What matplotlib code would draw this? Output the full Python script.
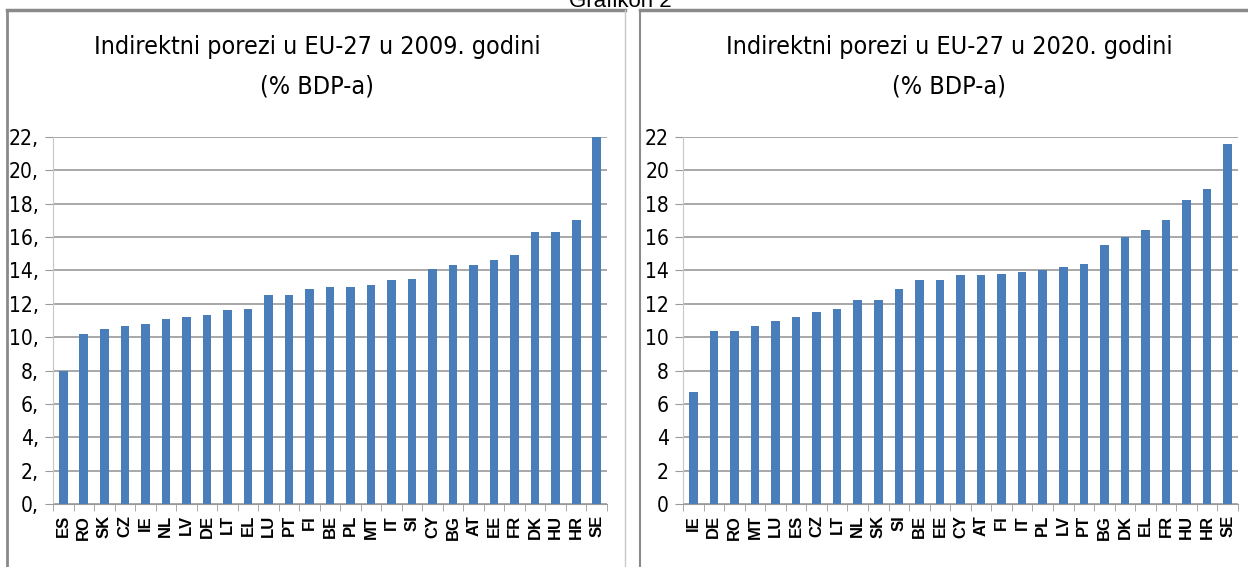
import matplotlib
matplotlib.use('Agg')
from matplotlib import pyplot as plt
from matplotlib.lines import Line2D
from matplotlib import font_manager
import numpy as np

# 2009
countries_2009 = ['ES', 'RO', 'SK', 'CZ', 'IE', 'NL', 'LV', 'DE', 'LT', 'EL', 'LU', 'PT', 'FI', 'BE',
                  'PL', 'MT', 'IT', 'SI', 'CY', 'BG', 'AT', 'EE', 'FR', 'DK', 'HU', 'HR', 'SE']
values_2009 = [8.0, 10.2, 10.5, 10.7, 10.8, 11.1, 11.2, 11.3, 11.6, 11.7, 12.5, 12.5, 12.9, 13.0,
               13.0, 13.1, 13.4, 13.5, 14.1, 14.3, 14.3, 14.6, 14.9, 16.3, 16.3, 17.0, 22.0]

# 2020
countries_2020 = ['IE', 'DE', 'RO', 'MT', 'LU', 'ES', 'CZ', 'LT', 'NL', 'SK', 'SI', 'BE', 'EE', 'CY',
                  'AT', 'FI', 'IT', 'PL', 'LV', 'PT', 'BG', 'DK', 'EL', 'FR', 'HU', 'HR', 'SE']
values_2020 = [6.7, 10.4, 10.4, 10.7, 11.0, 11.2, 11.5, 11.7, 12.2, 12.2, 12.9, 13.4, 13.4, 13.7,
               13.7, 13.8, 13.9, 14.0, 14.2, 14.4, 15.5, 16.0, 16.4, 17.0, 18.2, 18.9, 21.6]

yticks = [0, 2, 4, 6, 8, 10, 12, 14, 16, 18, 20, 22]
labels_2009 = ['%d,' % v for v in yticks]
labels_2020 = ['%d' % v for v in yticks]

# uski font ako postoji
cond = [f.name for f in font_manager.fontManager.ttflist if f.stretch in ('condensed', 'semi-condensed')]
if 'DejaVu Sans' in cond:
    NARROW = dict(family='DejaVu Sans', stretch='condensed')
    TSIZE, YSIZE = 18, 15
else:
    NARROW = dict(family='DejaVu Sans')
    TSIZE, YSIZE = 16, 13.5
BAR = '#4a7ebb'
GRID = '#9a9a9a'

W, H = 1248, 567
fig = plt.figure(figsize=(W / 100, H / 100), dpi=100)


def px(x0, y0, x1, y1):
    # pixel box (top-left origin) -> figure fraction rect
    return [x0 / W, 1 - y1 / H, (x1 - x0) / W, (y1 - y0) / H]


def draw_chart(ax, cats, vals, ylabels):
    n = len(cats)
    x = np.arange(n)
    ax.bar(x, vals, width=0.42, color=BAR, zorder=3)
    ax.set_xlim(-0.5, n - 0.5)
    ax.set_ylim(0, 22)
    ax.set_yticks(yticks)
    ax.set_yticklabels(ylabels, fontsize=YSIZE, **NARROW)
    ax.yaxis.grid(True, color=GRID, lw=1.2, zorder=0)
    ax.set_xticks(x)
    ax.set_xticklabels(cats, rotation=90, fontsize=12, fontweight='bold', family='Liberation Sans')
    ax.set_xticks(np.arange(n + 1) - 0.5, minor=True)
    ax.tick_params(axis='x', which='major', length=0, pad=8)
    ax.tick_params(axis='x', which='minor', length=5, color=GRID)
    ax.tick_params(axis='y', length=6, color=GRID, pad=4)
    for s in ['top', 'right']:
        ax.spines[s].set_visible(False)
    ax.spines['left'].set_color('#c8c8c8')
    ax.spines['bottom'].set_color(GRID)


ax1 = fig.add_axes(px(53, 137, 607, 504))
draw_chart(ax1, countries_2009, values_2009, labels_2009)
ax2 = fig.add_axes(px(683, 137, 1238, 504))
draw_chart(ax2, countries_2020, values_2020, labels_2020)

fig.text(317 / W, 1 - 67 / H, 'Indirektni porezi u EU-27 u 2009. godini\n(% BDP-a)',
         ha='center', va='center', fontsize=TSIZE, linespacing=1.8, **NARROW)
fig.text(949 / W, 1 - 67 / H, 'Indirektni porezi u EU-27 u 2020. godini\n(% BDP-a)',
         ha='center', va='center', fontsize=TSIZE, linespacing=1.8, **NARROW)
fig.text(620 / W, 1 - 7 / H, 'Grafikon 2', ha='center', va='baseline', fontsize=16,
         family='Liberation Sans')

# okviri panela
def fline(xs, ys, **kw):
    fig.add_artist(Line2D([v / W for v in xs], [1 - v / H for v in ys], **kw))

fline([7, 625], [10, 10], color='#8a8a8a', lw=2.5)
fline([7, 7], [10, 567], color='#8a8a8a', lw=2)
fline([625, 625], [10, 567], color='#c8c8c8', lw=1)
fline([640, 1248], [10, 10], color='#8a8a8a', lw=2.5)
fline([640, 640], [10, 567], color='#8a8a8a', lw=1.5)

fig.savefig('out.png', dpi=100)
